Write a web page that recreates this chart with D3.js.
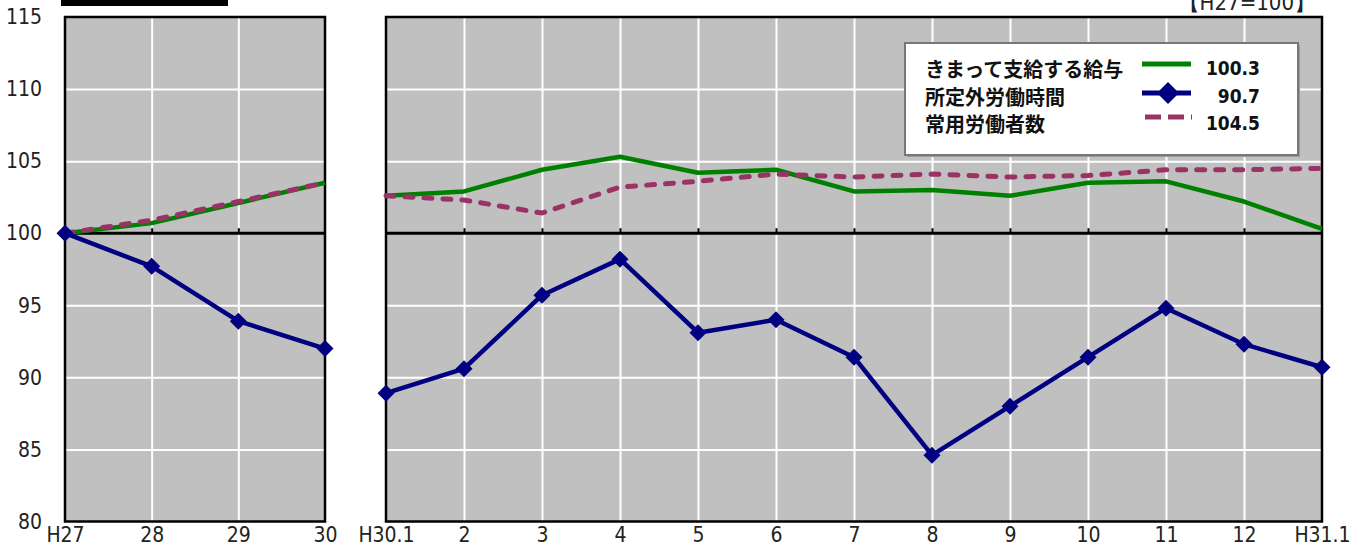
<!DOCTYPE html>
<html><head><meta charset="utf-8">
<script src="https://cdn.jsdelivr.net/npm/d3@7"></script>
<style>
body{margin:0;background:#fff;}
svg{display:block;}
.num{font-family:"DejaVu Sans Condensed","DejaVu Sans",sans-serif;font-stretch:condensed;font-size:21px;fill:#222;}
.jp{font-family:"Noto Sans CJK JP",sans-serif;font-weight:bold;font-size:20px;fill:#111;}
.val{font-family:"DejaVu Sans Condensed","DejaVu Sans",sans-serif;font-stretch:condensed;font-weight:bold;font-size:19px;fill:#111;}
</style></head><body>
<svg id="chart" width="1360" height="548"></svg>
<script>
const years = ["H27", "28", "29", "30"];
const yearWage = [100, 100.7, 102.1, 103.5];
const yearHours = [100, 97.7, 93.9, 92.0];
const yearWorkers = [100, 100.9, 102.2, 103.5];

const months = ["H30.1", "2", "3", "4", "5", "6", "7", "8", "9", "10", "11", "12", "H31.1"];
const monthWage = [102.6, 102.9, 104.4, 105.3, 104.2, 104.4, 102.9, 103.0, 102.6, 103.5, 103.6, 102.2, 100.3];
const monthHours = [88.9, 90.6, 95.7, 98.2, 93.1, 94.0, 91.4, 84.6, 88.0, 91.4, 94.8, 92.3, 90.7];
const monthWorkers = [102.6, 102.3, 101.4, 103.2, 103.6, 104.1, 103.9, 104.1, 103.9, 104.0, 104.4, 104.4, 104.5];

const yTicks = [80, 85, 90, 95, 100, 105, 110, 115];
const seriesNames = ["きまって支給する給与", "所定外労働時間", "常用労働者数"];
const latest = ["100.3", "90.7", "104.5"];

const GREEN = "#008000", NAVY = "#000080", PURPLE = "#993366";
const svg = d3.select("#chart");
const y = d3.scaleLinear().domain([80, 115]).range([521.5, 17]);
const diamond = (r) => `M0,${-r}L${r},0L0,${r}L${-r},0Z`;

function panel(cats, wage, hours, workers, x0, x1, showY) {
  const x = d3.scalePoint().domain(cats).range([x0, x1]);
  const g = svg.append("g");
  const h = y(80) - y(115);
  g.append("rect").attr("x", x0).attr("y", y(115)).attr("width", x1 - x0).attr("height", h).attr("fill", "#c0c0c0");

  // grid
  g.append("g").attr("transform", `translate(${x0},0)`)
    .call(d3.axisLeft(y).tickValues(yTicks.filter((v) => v > 80 && v < 115 && v !== 100)).tickSize(-(x1 - x0)).tickFormat(""))
    .call((s) => s.select(".domain").remove())
    .selectAll("line").attr("stroke", "#fff").attr("stroke-width", 2);
  g.append("g").attr("transform", `translate(0,${y(80)})`)
    .call(d3.axisBottom(x).tickValues(cats.slice(1, -1)).tickSize(-h).tickFormat(""))
    .call((s) => s.select(".domain").remove())
    .selectAll("line").attr("stroke", "#fff").attr("stroke-width", 2);

  // 100 baseline with upward ticks
  g.append("line").attr("x1", x0).attr("x2", x1).attr("y1", y(100)).attr("y2", y(100)).attr("stroke", "#000").attr("stroke-width", 3);
  g.append("g").attr("transform", `translate(0,${y(100)})`)
    .call(d3.axisTop(x).tickValues(cats.slice(1, -1)).tickSize(5).tickFormat(""))
    .call((s) => s.select(".domain").remove())
    .selectAll("line").attr("stroke", "#000").attr("stroke-width", 2);

  g.append("rect").attr("x", x0).attr("y", y(115)).attr("width", x1 - x0).attr("height", h)
    .attr("fill", "none").attr("stroke", "#000").attr("stroke-width", 2.5);

  const line = d3.line().x((d, i) => x(cats[i])).y((d) => y(d));
  g.append("path").datum(wage).attr("d", line).attr("fill", "none").attr("stroke", GREEN).attr("stroke-width", 4.5).attr("stroke-linejoin", "round");
  g.append("path").datum(workers).attr("d", line).attr("fill", "none").attr("stroke", PURPLE).attr("stroke-width", 5)
    .attr("stroke-dasharray", "8,11").attr("stroke-linecap", "round");
  g.append("path").datum(hours).attr("d", line).attr("fill", "none").attr("stroke", NAVY).attr("stroke-width", 4.5).attr("stroke-linejoin", "round");
  g.selectAll("path.mk").data(hours).join("path").attr("class", "mk")
    .attr("transform", (d, i) => `translate(${x(cats[i])},${y(d)})`).attr("d", diamond(8.5)).attr("fill", NAVY);

  const xa = g.append("g").attr("class", "num").attr("transform", `translate(0,${y(80)})`)
    .call(d3.axisBottom(x).tickSize(0).tickPadding(5.5));
  xa.select(".domain").remove();
  xa.selectAll("text").attr("class", "num").attr("fill", "#222");

  if (showY) {
    const ya = g.append("g").attr("transform", `translate(${x0},0)`)
      .call(d3.axisLeft(y).tickValues(yTicks).tickSize(0).tickPadding(23));
    ya.select(".domain").remove();
    ya.selectAll("text").attr("class", "num").attr("fill", "#222");
  }
}

panel(years, yearWage, yearHours, yearWorkers, 65, 325, true);
panel(months, monthWage, monthHours, monthWorkers, 386, 1322, false);

// title remnant and unit (cut at the top edge, as in the source image)
svg.append("rect").attr("x", 61).attr("y", 0).attr("width", 167).attr("height", 6).attr("fill", "#000");
svg.append("text").attr("class", "num").attr("x", 1316).attr("y", 10).attr("text-anchor", "end")
  .style("font-size", "22px").text("【H27=100】");

// legend
const lg = svg.append("g");
lg.append("rect").attr("x", 907).attr("y", 45).attr("width", 393).attr("height", 112).attr("fill", "#999");
lg.append("rect").attr("x", 905).attr("y", 43).attr("width", 393).attr("height", 112)
  .attr("fill", "#fff").attr("stroke", "#777").attr("stroke-width", 2);
const rowsText = [68, 96, 123];
const rowsLine = [64, 93, 117];
seriesNames.forEach((n, i) => {
  lg.append("text").attr("class", "jp").attr("x", 925).attr("y", rowsText[i]).attr("dominant-baseline", "central").text(n);
  lg.append("text").attr("class", "val").attr("x", 1260).attr("y", rowsText[i]).attr("dominant-baseline", "central")
    .attr("text-anchor", "end").text(latest[i]);
});
lg.append("line").attr("x1", 1142).attr("x2", 1191).attr("y1", rowsLine[0]).attr("y2", rowsLine[0]).attr("stroke", GREEN).attr("stroke-width", 5);
lg.append("line").attr("x1", 1142).attr("x2", 1191).attr("y1", rowsLine[1]).attr("y2", rowsLine[1]).attr("stroke", NAVY).attr("stroke-width", 5);
lg.append("path").attr("transform", `translate(1168,${rowsLine[1]})`).attr("d", diamond(11)).attr("fill", NAVY);
lg.append("line").attr("x1", 1145).attr("x2", 1192).attr("y1", rowsLine[2]).attr("y2", rowsLine[2]).attr("stroke", PURPLE).attr("stroke-width", 5)
  .attr("stroke-dasharray", "16,7");
</script>
</body></html>
